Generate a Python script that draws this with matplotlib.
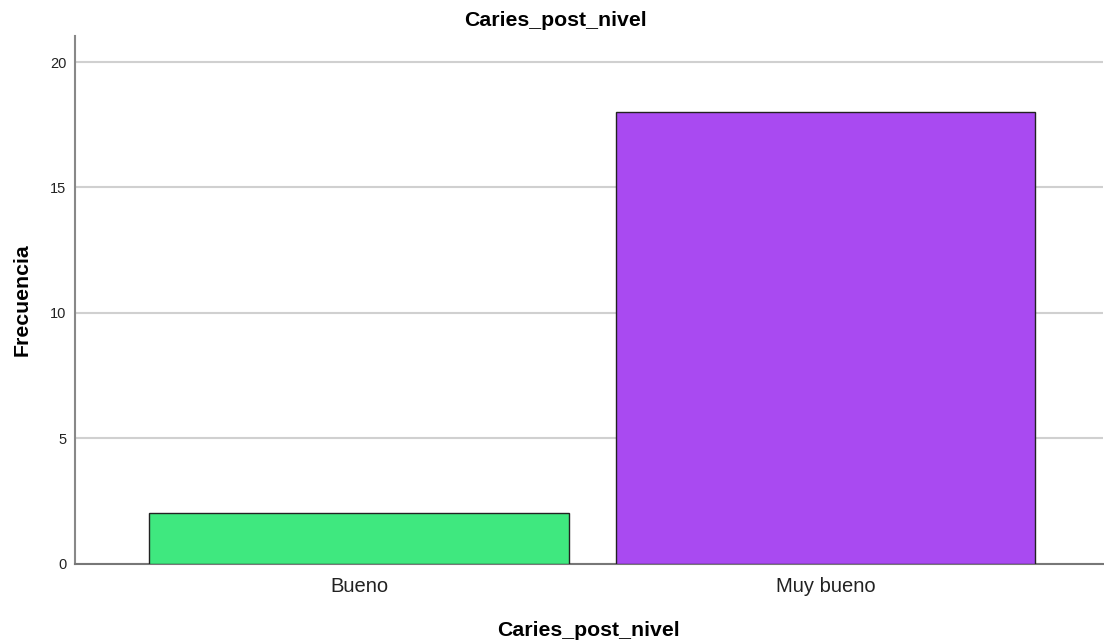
import matplotlib
matplotlib.use("Agg")
import matplotlib.pyplot as plt

categories = ["Bueno", "Muy bueno"]
frequencies = [2, 18]
bar_colors = ["#3FE87F", "#A94AF1"]
y_ticks = [0, 5, 10, 15, 20]

plt.rcParams["font.family"] = ["Liberation Sans", "DejaVu Sans"]

fig = plt.figure(figsize=(11.04, 6.4), dpi=100)
ax = fig.add_axes([0.0675, 0.1195, 0.9315, 0.8243])

x = range(len(categories))
ax.bar(x, frequencies, width=0.9, color=bar_colors, edgecolor="#222222", linewidth=1, zorder=3)

ax.set_xlim(-0.61, 1.595)
ax.set_ylim(0, 21.04)
ax.set_yticks(y_ticks)
ax.set_yticklabels([str(t) for t in y_ticks], fontsize=10.5)
ax.set_xticks(list(x))
ax.set_xticklabels(categories, fontsize=14.5)
ax.tick_params(axis="both", length=0, colors="#222222")
ax.tick_params(axis="y", pad=6)
ax.tick_params(axis="x", pad=10)

ax.grid(axis="y", color="#D0D0D0", linewidth=1.5, zorder=0)
for side in ["top", "right"]:
    ax.spines[side].set_visible(False)
ax.spines["left"].set_color("#888888")
ax.spines["bottom"].set_color("#777777")
ax.spines["left"].set_linewidth(1.5)
ax.spines["bottom"].set_linewidth(1.5)

fig.text(0.503, 1 - 20 / 640, "Caries_post_nivel", fontsize=15.3, fontweight="bold",
         ha="center", va="center")
ax.set_xlabel("Caries_post_nivel", fontsize=15.3, fontweight="bold", labelpad=18)
ax.set_ylabel("Frecuencia", fontsize=15.3, fontweight="bold", labelpad=13)

fig.savefig("out.png", dpi=100)
